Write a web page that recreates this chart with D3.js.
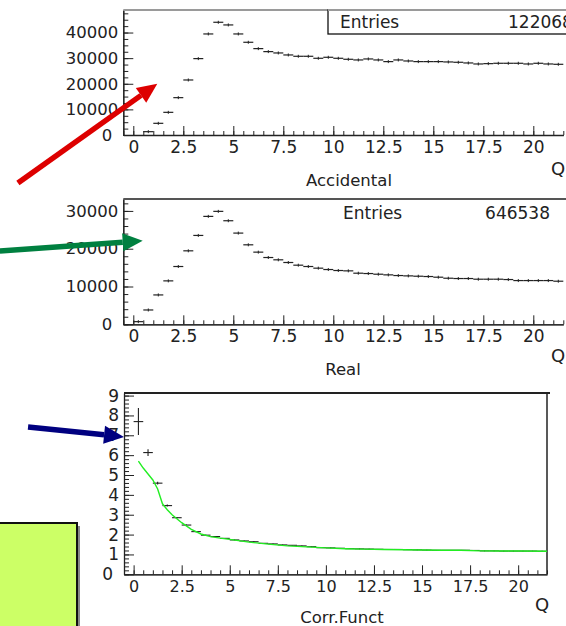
<!DOCTYPE html>
<html>
<head>
<meta charset="utf-8">
<script src="https://cdn.jsdelivr.net/npm/d3@7"></script>
<style>
  body { margin: 0; background: #fff; }
  svg { display: block; font-family: "DejaVu Sans", sans-serif; }
  .axis path, .axis line { stroke: #222; }
</style>
</head>
<body>
<svg class="chart"></svg>
<script>
// bin centres of the Q histograms (bin width 0.5)
var qBins = [0.25, 0.75, 1.25, 1.75, 2.25, 2.75, 3.25, 3.75, 4.25, 4.75,
  5.25, 5.75, 6.25, 6.75, 7.25, 7.75, 8.25, 8.75, 9.25, 9.75,
  10.25, 10.75, 11.25, 11.75, 12.25, 12.75, 13.25, 13.75, 14.25, 14.75,
  15.25, 15.75, 16.25, 16.75, 17.25, 17.75, 18.25, 18.75, 19.25, 19.75,
  20.25, 20.75, 21.25];

var accidental = [0, 1300, 4560, 8850, 14580, 21480, 29820, 39450, 44010, 42970,
  39450, 36200, 33720, 32550, 32030, 31250, 30730, 30730, 29950, 30340,
  29950, 29560, 29300, 29690, 29300, 28650, 29300, 28900, 28650, 28650,
  28650, 28520, 28390, 28125, 27730, 27860, 28000, 28000, 28000, 27730,
  28000, 27730, 27600];

var real = [700, 3790, 7770, 11490, 15290, 19440, 23510, 28550, 29880, 27400,
  24130, 21030, 19090, 17670, 17060, 16350, 15640, 15290, 14850, 14490,
  14230, 14140, 13520, 13430, 13250, 13080, 12900, 12810, 12720, 12640,
  12460, 12190, 12110, 12110, 11930, 11930, 11930, 11840, 11570, 11570,
  11570, 11570, 11400];

var corr = [7.69, 6.13, 4.59, 3.46, 2.85, 2.48, 2.15, 1.97, 1.90, 1.81,
  1.73, 1.68, 1.64, 1.56, 1.53, 1.48, 1.46, 1.43, 1.39, 1.34,
  1.33, 1.31, 1.29, 1.28, 1.27, 1.26, 1.25, 1.25, 1.24, 1.23,
  1.22, 1.21, 1.21, 1.21, 1.21, 1.20, 1.18, 1.18, 1.17, 1.17,
  1.17, 1.17, 1.16];

var corrErr = [0.68, 0.17, 0.07, 0.05, 0.04, 0.03, 0.03, 0.02, 0.02, 0.02,
  0.02, 0.02, 0.02, 0.02, 0.02, 0.02, 0.02, 0.02, 0.02, 0.02,
  0.02, 0.02, 0.02, 0.02, 0.02, 0.02, 0.02, 0.02, 0.02, 0.02,
  0.02, 0.02, 0.02, 0.02, 0.02, 0.02, 0.02, 0.02, 0.02, 0.02,
  0.02, 0.02, 0.02];

// green fit curve
var fitQ = [0.25, 0.5, 0.75, 1.0, 1.25, 1.5, 1.75, 2.0, 2.5, 3.0, 3.5, 4.0, 4.5, 5.0,
  6.0, 7.0, 8.0, 9.0, 10.0, 11.0, 12.0, 13.0, 14.0, 15.0, 16.0, 17.0, 18.0, 19.0, 20.0, 21.5];
var fitVal = [5.7, 5.35, 5.05, 4.75, 4.3, 3.55, 3.25, 3.0, 2.6, 2.26, 2.03, 1.9, 1.82, 1.76,
  1.62, 1.52, 1.43, 1.38, 1.33, 1.29, 1.27, 1.25, 1.24, 1.22, 1.21, 1.21, 1.18, 1.17, 1.17, 1.16];

var xTicks = [0, 2.5, 5, 7.5, 10, 12.5, 15, 17.5, 20];
var topTicks = [0, 10000, 20000, 30000, 40000];
var midTicks = [0, 10000, 20000, 30000];
var corrTicks = [0, 1, 2, 3, 4, 5, 6, 7, 8, 9];

var width = 566, height = 626;
var chart = d3.select(".chart").attr("width", width).attr("height", height);

function drawPanel(p) {
  var x = d3.scaleLinear().domain([-0.5, 21.5]).range([p.left, p.right]);
  var y = d3.scaleLinear().domain([0, p.ymax]).range([p.bottom, p.top]);
  var g = chart.append("g");

  // minor ticks
  g.append("g").attr("class", "axis")
    .attr("transform", "translate(0," + p.bottom + ")")
    .call(d3.axisBottom(x).tickValues(d3.range(-0.5, 21.6, 0.5)).tickSize(-4).tickSizeOuter(0).tickFormat(""));
  g.append("g").attr("class", "axis")
    .attr("transform", "translate(" + p.left + ",0)")
    .call(d3.axisLeft(y).tickValues(d3.range(0, p.ymax, p.minorY)).tickSize(-5).tickSizeOuter(0).tickFormat(""));

  // major ticks + labels
  var xa = g.append("g").attr("class", "axis")
    .attr("transform", "translate(0," + p.bottom + ")")
    .call(d3.axisBottom(x).tickValues(xTicks).tickSize(-9).tickSizeOuter(0).tickPadding(p.xPad)
      .tickFormat(function(d) { return String(d); }));
  xa.selectAll("text").attr("font-size", p.xFont).attr("fill", "#222")
    .attr("font-family", "DejaVu Sans");
  var ya = g.append("g").attr("class", "axis")
    .attr("transform", "translate(" + p.left + ",0)")
    .call(d3.axisLeft(y).tickValues(p.yTicks).tickSize(-10).tickSizeOuter(0).tickPadding(5)
      .tickFormat(function(d) { return String(d); }));
  ya.selectAll("text").attr("font-size", p.yFont).attr("fill", "#222")
    .attr("font-family", "DejaVu Sans")
    .attr("dx", function(d) { return d === 0 ? -6 : 0; });
  xa.select(".domain").attr("stroke-width", 1.3);
  ya.select(".domain").attr("stroke-width", 1.3);

  // frame
  g.append("line").attr("x1", p.left).attr("x2", p.right + 3)
    .attr("y1", p.top).attr("y2", p.top)
    .attr("stroke", p.frameColor).attr("stroke-width", 2);
  if (p.rightEdge) {
    g.append("line").attr("x1", p.right).attr("x2", p.right)
      .attr("y1", p.top).attr("y2", p.bottom)
      .attr("stroke", "#222").attr("stroke-width", 1.5);
  }

  g.append("text").attr("x", p.qX).attr("y", p.qY)
    .attr("font-size", 18).attr("fill", "#222").text("Q");
  g.append("text").attr("x", p.titleX).attr("y", p.titleY)
    .attr("text-anchor", "middle").attr("font-size", 16.5).attr("fill", "#222").text(p.title);

  return { x: x, y: y, g: g };
}

function drawHist(panel, values) {
  var bins = panel.g.append("g").selectAll("g")
    .data(qBins.map(function(q, i) { return { q: q, v: values[i] }; })
      .filter(function(d) { return d.v > 0; }))
    .enter().append("g");
  bins.append("line")
    .attr("x1", function(d) { return panel.x(d.q - 0.25); })
    .attr("x2", function(d) { return panel.x(d.q + 0.25); })
    .attr("y1", function(d) { return panel.y(d.v); })
    .attr("y2", function(d) { return panel.y(d.v); })
    .attr("stroke", "#222").attr("stroke-width", 1.2);
  bins.append("line")
    .attr("x1", function(d) { return panel.x(d.q); })
    .attr("x2", function(d) { return panel.x(d.q); })
    .attr("y1", function(d) { return panel.y(d.v) - 1.5; })
    .attr("y2", function(d) { return panel.y(d.v) + 1.5; })
    .attr("stroke", "#222").attr("stroke-width", 1);
}

// ---------- top: Accidental
var accPanel = drawPanel({
  left: 123.3, right: 563.3, top: 10, bottom: 135, ymax: 48800, minorY: 2500,
  yTicks: topTicks, xPad: 6, xFont: 17, yFont: 16.5, frameColor: "#9a9a9a",
  qX: 551, qY: 175, title: "Accidental", titleX: 349, titleY: 186
});

// stats box
chart.append("rect").attr("x", 328).attr("y", 10).attr("width", 260).attr("height", 24)
  .attr("fill", "#fff").attr("stroke", "#111").attr("stroke-width", 1.3);
chart.append("line").attr("x1", 328).attr("x2", 566).attr("y1", 10).attr("y2", 10)
  .attr("stroke", "#9a9a9a").attr("stroke-width", 2);
chart.append("text").attr("x", 340).attr("y", 28).attr("font-size", 17).attr("fill", "#222").text("Entries");
chart.append("text").attr("x", 508).attr("y", 28).attr("font-size", 17).attr("fill", "#222").text("1220686");

drawHist(accPanel, accidental);

// ---------- middle: Real
var realPanel = drawPanel({
  left: 123.3, right: 563.3, top: 199, bottom: 324.3, ymax: 33150, minorY: 2000,
  yTicks: midTicks, xPad: 6, xFont: 17, yFont: 16.5, frameColor: "#555",
  qX: 551, qY: 362, title: "Real", titleX: 343, titleY: 375
});
chart.append("text").attr("x", 343).attr("y", 219).attr("font-size", 17).attr("fill", "#222").text("Entries");
chart.append("text").attr("x", 550).attr("y", 219).attr("text-anchor", "end")
  .attr("font-size", 17).attr("fill", "#222").text("646538");
drawHist(realPanel, real);

// ---------- bottom: correlation function
var cfPanel = drawPanel({
  left: 124, right: 547, top: 393, bottom: 574.3, ymax: 9.13, minorY: 0.2,
  yTicks: corrTicks, xPad: 6, xFont: 16, yFont: 17, frameColor: "#222", rightEdge: true,
  qX: 535, qY: 611, title: "Corr.Funct", titleX: 342, titleY: 623
});

var pts = cfPanel.g.append("g").selectAll("g")
  .data(qBins.map(function(q, i) { return { q: q, v: corr[i], e: corrErr[i] }; }))
  .enter().append("g");
pts.append("line")
  .attr("x1", function(d) { return cfPanel.x(d.q - 0.25); })
  .attr("x2", function(d) { return cfPanel.x(d.q + 0.25); })
  .attr("y1", function(d) { return cfPanel.y(d.v); })
  .attr("y2", function(d) { return cfPanel.y(d.v); })
  .attr("stroke", "#222").attr("stroke-width", 1.1);
pts.append("line")
  .attr("x1", function(d) { return cfPanel.x(d.q); })
  .attr("x2", function(d) { return cfPanel.x(d.q); })
  .attr("y1", function(d) { return cfPanel.y(d.v - d.e); })
  .attr("y2", function(d) { return cfPanel.y(d.v + d.e); })
  .attr("stroke", "#222").attr("stroke-width", 1.1);

// fit drawn on top of the points
cfPanel.g.append("path")
  .datum(fitQ.map(function(q, i) { return [q, fitVal[i]]; }))
  .attr("fill", "none").attr("stroke", "#22ee22").attr("stroke-width", 1.4)
  .attr("d", d3.line()
    .x(function(d) { return cfPanel.x(d[0]); })
    .y(function(d) { return cfPanel.y(d[1]); }));

// ---------- yellow-green note box
chart.append("rect").attr("x", -3).attr("y", 526).attr("width", 83).attr("height", 110).attr("fill", "#888");
chart.append("rect").attr("x", -3).attr("y", 523).attr("width", 80).attr("height", 110)
  .attr("fill", "#ccff66").attr("stroke", "#111").attr("stroke-width", 2);

// ---------- arrows (ends given in the panel's own Q / value units)
var arrows = [
  { panel: accPanel, from: [-5.77, -18750], to: [1.2, 20000], color: "#dd0000" },
  { panel: realPanel, from: [-6.67, 19360], to: [0.47, 22100], color: "#008040" },
  { panel: cfPanel, from: [-5.49, 7.42], to: [-0.5, 6.92], color: "#000080" }
];
arrows.forEach(function(a) {
  var x1 = a.panel.x(a.from[0]), y1 = a.panel.y(a.from[1]);
  var x2 = a.panel.x(a.to[0]), y2 = a.panel.y(a.to[1]);
  var ang = Math.atan2(y2 - y1, x2 - x1);
  var headLen = 20, headW = 9;
  var bx = x2 - headLen * Math.cos(ang), by = y2 - headLen * Math.sin(ang);
  chart.append("line").attr("x1", x1).attr("y1", y1).attr("x2", bx).attr("y2", by)
    .attr("stroke", a.color).attr("stroke-width", 5.5);
  var px = -Math.sin(ang) * headW, py = Math.cos(ang) * headW;
  chart.append("polygon")
    .attr("points", [[x2, y2], [bx + px, by + py], [bx - px, by - py]].map(function(p) { return p.join(","); }).join(" "))
    .attr("fill", a.color);
});
</script>
</body>
</html>
